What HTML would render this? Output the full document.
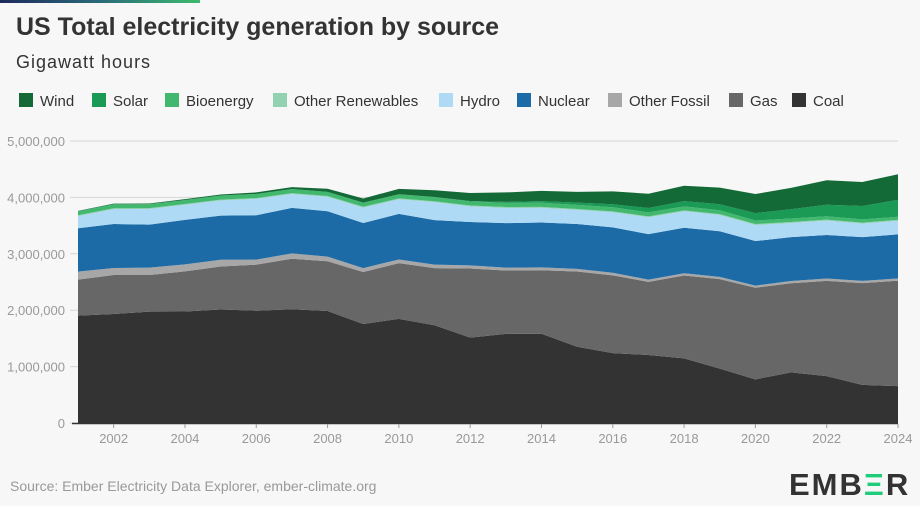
<!DOCTYPE html>
<html><head><meta charset="utf-8"><style>
body{margin:0;width:920px;height:506px;background:#f7f7f7;font-family:"Liberation Sans",sans-serif;overflow:hidden;position:relative}
.t{position:absolute;color:#333}
</style></head><body>
<div style="position:absolute;left:0;top:0;width:200px;height:3px;background:linear-gradient(90deg,#1d2a5c,#2a6b7a,#3dbb6e)"></div>
<div class="t" style="left:16px;top:13px;font-size:25px;font-weight:bold;letter-spacing:0px">US Total electricity generation by source</div>
<div class="t" style="left:16px;top:52px;font-size:18px;letter-spacing:1px">Gigawatt hours</div>
<svg id="c" width="920" height="506" style="position:absolute;left:0;top:0"></svg>
<div class="t" style="left:10px;top:478px;font-size:14px;color:#999">Source: Ember Electricity Data Explorer, ember-climate.org</div>
<div style="position:absolute;left:789px;top:467px;font-size:31px;font-weight:bold;color:#333;letter-spacing:2px">EMB<span style="color:#1fcc7a">Ξ</span>R</div>
<script>
const years=[2001,2002,2003,2004,2005,2006,2007,2008,2009,2010,2011,2012,2013,2014,2015,2016,2017,2018,2019,2020,2021,2022,2023,2024];
const coal=[1904,1933,1974,1978,2013,1991,2016,1986,1756,1847,1733,1514,1581,1582,1352,1239,1206,1146,965,774,898,832,675,653];
const gas=[639,691,650,710,761,816,897,883,921,988,1014,1226,1124,1127,1335,1379,1297,1469,1586,1624,1579,1689,1806,1870];
const otherFossil=[140,125,130,125,120,90,95,80,70,65,60,55,50,50,45,45,40,40,40,38,40,40,40,40];
const nuclear=[769,780,764,788,782,787,806,806,799,807,790,769,789,797,797,806,805,807,809,790,778,772,775,782];
const hydro=[217,264,276,268,270,289,247,254,273,260,319,276,269,259,249,268,300,292,288,285,251,255,240,240];
const otherRen=[15,15,15,15,15,15,15,15,15,15,16,16,16,16,16,16,16,16,16,17,17,17,17,17];
const bio=[70,70,70,70,72,72,72,73,72,72,72,72,74,75,74,72,70,70,68,62,62,60,57,55];
const solar=[1,1,1,1,1,1,1,1,1,2,3,8,17,28,39,54,77,93,107,132,164,205,238,300];
const wind=[6,10,11,14,18,27,34,55,74,95,120,141,168,182,191,227,254,273,295,338,379,434,425,453];
const yTicks=[0,1000000,2000000,3000000,4000000,5000000];
const yLabels=["0","1,000,000","2,000,000","3,000,000","4,000,000","5,000,000"];
const xTicks=[2002,2004,2006,2008,2010,2012,2014,2016,2018,2020,2022,2024];
const series=[["Coal",coal,"#333333"],["Gas",gas,"#676767"],["Other Fossil",otherFossil,"#a7a7a7"],["Nuclear",nuclear,"#1c6ba7"],["Hydro",hydro,"#aedaf5"],["Other Renewables",otherRen,"#92d1b1"],["Bioenergy",bio,"#42b86e"],["Solar",solar,"#1a9a55"],["Wind",wind,"#136a36"]];
const svg=document.getElementById('c');const NS='http://www.w3.org/2000/svg';
const X=y=>78+(y-2001)*(898-78)/23;
const Y=v=>423-v*(423-141)/5000000;
function mk(t,a,p){const e=document.createElementNS(NS,t);for(const k in a)e.setAttribute(k,a[k]);(p||svg).appendChild(e);return e;}
yTicks.forEach((v,i)=>{
 const g=mk('line',{x1:70,x2:898,y1:Y(v),y2:Y(v),stroke:'#d6d6d6','stroke-width':1});
 
 
 const t=mk('text',{x:65,y:Y(v)+5,'text-anchor':'end','font-size':13,fill:'#999','font-family':'Liberation Sans'});
 t.textContent=yLabels[i];
 
 
});
let base=years.map(()=>0);
series.forEach(([name,vals,col])=>{
 const top=base.map((b,i)=>b+vals[i]*1000);
 let d='M'+years.map((y,i)=>X(y)+','+Y(top[i])).join('L');
 for(let i=years.length-1;i>=0;i--)d+='L'+X(years[i])+','+Y(base[i]);
 const p=mk('path',{d:d+'Z',fill:col});
 
 
 base=top;
});
const ax=mk('line',{x1:72,x2:898,y1:423.5,y2:423.5,stroke:'#333','stroke-width':1.5});


xTicks.forEach(y=>{
 const tk=mk('line',{x1:X(y),x2:X(y),y1:424,y2:428,stroke:'#999'});
 
 
 const t=mk('text',{x:X(y),y:443,'text-anchor':'middle','font-size':13,fill:'#999','font-family':'Liberation Sans'});
 t.textContent=y;
 
 
});
const leg=[["Wind","#136a36",19],["Solar","#1a9a55",92],["Bioenergy","#42b86e",165],["Other Renewables","#92d1b1",273],["Hydro","#aedaf5",439],["Nuclear","#1c6ba7",517],["Other Fossil","#a7a7a7",608],["Gas","#676767",729],["Coal","#333333",792]];
leg.forEach(([n,c,x])=>{
 const r=mk('rect',{x:x,y:93,width:14,height:14,fill:c});
 
 
 const t=mk('text',{x:x+21,y:106,'font-size':15,fill:'#333','font-family':'Liberation Sans'});
 t.textContent=n;
 
 
});
</script>
</body></html>
